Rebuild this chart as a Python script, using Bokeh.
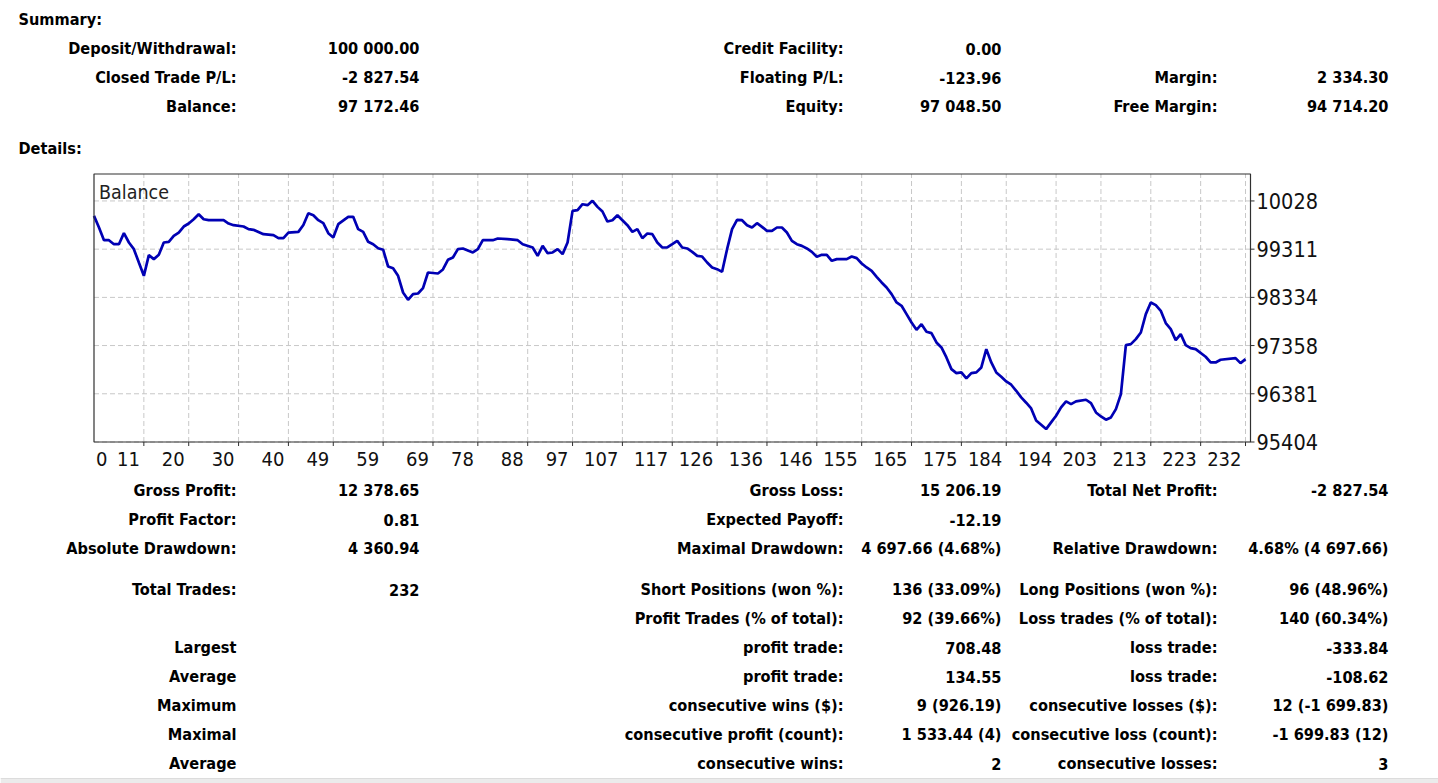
from bokeh.plotting import figure
from bokeh.models import Range1d
from bokeh.core.properties import value
from bokeh.embed import file_html
from bokeh.resources import INLINE

# ---------------- data ----------------
summary_rows = [
    ["Deposit/Withdrawal:", "100 000.00", "Credit Facility:", "0.00", "", ""],
    ["Closed Trade P/L:", "-2 827.54", "Floating P/L:", "-123.96", "Margin:", "2 334.30"],
    ["Balance:", "97 172.46", "Equity:", "97 048.50", "Free Margin:", "94 714.20"],
]
detail_rows = [
    ["Gross Profit:", "12 378.65", "Gross Loss:", "15 206.19", "Total Net Profit:", "-2 827.54"],
    ["Profit Factor:", "0.81", "Expected Payoff:", "-12.19", "", ""],
    ["Absolute Drawdown:", "4 360.94", "Maximal Drawdown:", "4 697.66 (4.68%)", "Relative Drawdown:", "4.68% (4 697.66)"],
    ["Total Trades:", "232", "Short Positions (won %):", "136 (33.09%)", "Long Positions (won %):", "96 (48.96%)"],
    ["", "", "Profit Trades (% of total):", "92 (39.66%)", "Loss trades (% of total):", "140 (60.34%)"],
    ["Largest", "", "profit trade:", "708.48", "loss trade:", "-333.84"],
    ["Average", "", "profit trade:", "134.55", "loss trade:", "-108.62"],
    ["Maximum", "", "consecutive wins ($):", "9 (926.19)", "consecutive losses ($):", "12 (-1 699.83)"],
    ["Maximal", "", "consecutive profit (count):", "1 533.44 (4)", "consecutive loss (count):", "-1 699.83 (12)"],
    ["Average", "", "consecutive wins:", "2", "consecutive losses:", "3"],
]
section_titles = ["Summary:", "Details:"]

trade_no = [1, 2, 3, 4, 5, 6, 7, 8, 9, 10, 11, 12, 13, 14, 15, 16, 17, 18, 19, 20,
            21, 22, 23, 24, 27, 28, 29, 31, 32, 33, 35, 37, 38, 39, 40, 42, 43, 44, 45, 46,
            47, 48, 49, 50, 52, 53, 54, 55, 56, 57, 58, 59, 60, 61, 62, 63, 64, 65, 66, 67,
            68, 70, 71, 72, 73, 74, 75, 77, 78, 79, 81, 82, 84, 86, 87, 89, 90, 91, 92, 93,
            94, 95, 96, 97, 98, 99, 100, 101, 102, 103, 104, 105, 106, 107, 108, 109, 110, 111, 112, 113,
            114, 115, 116, 117, 118, 119, 120, 121, 122, 123, 124, 125, 126, 127, 128, 129, 130, 131, 132, 133,
            134, 135, 136, 137, 138, 139, 140, 141, 142, 143, 144, 145, 146, 147, 148, 149, 150, 152, 153, 154,
            155, 156, 157, 158, 159, 160, 161, 162, 163, 164, 165, 166, 167, 168, 169, 170, 171, 172, 173, 174,
            175, 176, 177, 178, 179, 180, 181, 182, 183, 184, 185, 186, 187, 188, 189, 190, 191, 192, 193, 194,
            195, 196, 197, 198, 200, 201, 202, 203, 204, 205, 206, 207, 208, 209, 210, 211, 212, 213, 214, 215,
            216, 217, 218, 219, 220, 221, 222, 224, 225, 226, 227, 230, 231, 232]
balance = [99986, 99750, 99493, 99493, 99412, 99412, 99635, 99446, 99311, 99040, 98771, 99190, 99109, 99196, 99446, 99460, 99581, 99648, 99770, 99831,
           99918, 100020, 99918, 99898, 99898, 99831, 99797, 99770, 99716, 99703, 99615, 99595, 99534, 99534, 99648, 99662, 99800, 100040, 99999, 99898,
           99838, 99635, 99547, 99817, 99966, 99966, 99716, 99662, 99460, 99412, 99330, 99300, 98960, 98926, 98771, 98433, 98285, 98400, 98413, 98521,
           98838, 98818, 98900, 99095, 99142, 99311, 99325, 99244, 99311, 99493, 99493, 99527, 99514, 99493, 99412, 99345, 99176, 99378, 99230, 99244,
           99311, 99210, 99446, 100087, 100101, 100222, 100202, 100290, 100168, 100074, 99871, 99898, 99999, 99898, 99797, 99662, 99716, 99534, 99628, 99615,
           99446, 99345, 99345, 99412, 99480, 99345, 99325, 99257, 99176, 99162, 99041, 98940, 98906, 98852, 99311, 99716, 99905, 99898, 99797, 99750,
           99838, 99763, 99682, 99682, 99750, 99750, 99648, 99480, 99412, 99378, 99325, 99257, 99156, 99196, 99196, 99075, 99109, 99109, 99162, 99129,
           99021, 98940, 98872, 98751, 98636, 98535, 98400, 98231, 98164, 97995, 97826, 97677, 97792, 97637, 97610, 97421, 97320, 97117, 96881, 96800,
           96814, 96692, 96800, 96814, 96915, 97286, 97016, 96814, 96726, 96631, 96564, 96442, 96307, 96200, 96084, 95840, 95754, 95666, 95801, 95936,
           96105, 96226, 96172, 96226, 96260, 96192, 96003, 95922, 95855, 95902, 96071, 96375, 97367, 97387, 97488, 97623, 97995, 98231, 98177, 98062,
           97813, 97691, 97468, 97590, 97367, 97306, 97286, 97131, 97016, 97016, 97070, 97104, 97002, 97083]

x_tick_labels = [11, 20, 30, 40, 49, 59, 69, 78, 88, 97, 107, 117, 126, 136, 146, 155,
                 165, 175, 184, 194, 203, 213, 223, 232]
x_first_label = "0"
y_tick_values = [95404, 96381, 97358, 98334, 99311, 100288]
y_tick_text = ["95404", "96381", "97358", "98334", "99311", "10028"]
chart_title = "Balance"

# ---------------- layout (page pixels) ----------------
W, H = 1438, 783
FONT = "DejaVu Sans Condensed"
COL_X = [236, 419, 843, 1001, 1217, 1388]
TOP_ROWS_Y = [48, 77, 106]
BOTTOM_ROWS_Y = [490, 519, 548, 589, 618, 647, 676, 705, 734, 763]
TITLE_Y = [19, 148]

# chart frame in page pixels and its data extent
FL, FR, FT, FB = 93.5, 1250.0, 173.5, 441.5
X0, X1 = 1, 233
Y0, Y1 = 95404, 100834
ppx = (FR - FL) / (X1 - X0)
vpp = (Y1 - Y0) / (FB - FT)

p = figure(width=W, height=H, x_range=Range1d(0, W), y_range=Range1d(H, 0),
           output_backend="svg", toolbar_location=None, x_axis_type=None, y_axis_type=None,
           min_border=0)
p.grid.visible = False
p.outline_line_color = None
p.background_fill_color = "white"
p.border_fill_color = "white"
p.extra_x_ranges = {"trade": Range1d(X0 - FL / ppx, X0 + (W - FL) / ppx)}
p.extra_y_ranges = {"bal": Range1d(Y0 - (H - FB) * vpp, Y1 + FT * vpp)}
CH = dict(x_range_name="trade", y_range_name="bal")

# ---- tables ----
def put_rows(rows, ys):
    xs, yy, tt = [], [], []
    for row, y in zip(rows, ys):
        for cx, t in zip(COL_X, row):
            if t:
                xs.append(cx); yy.append(y); tt.append(t)
    p.text(x=xs, y=yy, text=tt, text_align="right", text_baseline="middle",
           text_font=value(FONT), text_font_style="bold", text_font_size="16.2px", text_color="black")

p.text(x=[18, 18], y=TITLE_Y, text=section_titles, text_align="left", text_baseline="middle",
       text_font=value(FONT), text_font_style="bold", text_font_size="16.2px", text_color="black")
put_rows(summary_rows, TOP_ROWS_Y)
put_rows(detail_rows, BOTTOM_ROWS_Y)

# bottom grey band
p.quad(left=[0], right=[W], top=[778], bottom=[H], fill_color="#ebebeb", line_color=None)
p.segment(x0=[0], x1=[W], y0=[778], y1=[778], line_color="#dcdcdc", line_width=1)

# ---- chart ----
GRID = dict(line_color="#c8c8c8", line_dash="5 3", line_width=1)
p.segment(x0=x_tick_labels, x1=x_tick_labels, y0=[Y0] * len(x_tick_labels), y1=[Y1] * len(x_tick_labels), **GRID, **CH)
p.segment(x0=[X0] * len(y_tick_values), x1=[X1] * len(y_tick_values), y0=y_tick_values, y1=y_tick_values, **GRID, **CH)

p.line(trade_no, balance, line_color="#0000b4", line_width=2.7, **CH)

AX = "#303030"
p.quad(left=[X0], right=[X1], bottom=[Y0], top=[Y1], fill_alpha=0, line_color=AX, line_width=1.2, **CH)
# tick marks (4 px outside the frame)
p.segment(x0=x_tick_labels, x1=x_tick_labels, y0=[Y0] * len(x_tick_labels),
          y1=[Y0 - 4 * vpp] * len(x_tick_labels), line_color=AX, line_width=1, **CH)
p.segment(x0=[X1] * len(y_tick_values), x1=[X1 + 4 / ppx] * len(y_tick_values),
          y0=y_tick_values, y1=y_tick_values, line_color=AX, line_width=1, **CH)

# tick labels
p.text(x=x_tick_labels, y=[Y0] * len(x_tick_labels), text=[str(v) for v in x_tick_labels],
       x_offset=-4, y_offset=17, text_align="right", text_baseline="middle",
       text_font=value(FONT), text_font_size="20px", text_color="#111111", **CH)
p.text(x=[X0], y=[Y0], text=[x_first_label], x_offset=2, y_offset=17, text_align="left",
       text_baseline="middle", text_font=value(FONT), text_font_size="20px", text_color="#111111", **CH)
p.text(x=[X1] * len(y_tick_values), y=y_tick_values, text=y_tick_text, x_offset=6,
       text_align="left", text_baseline="middle", text_font=value(FONT), text_font_size="21.5px",
       text_color="#111111", **CH)
p.text(x=[X0], y=[Y1], text=[chart_title], x_offset=5, y_offset=18, text_align="left",
       text_baseline="middle", text_font=value(FONT), text_font_size="19.5px", text_color="#222222", **CH)

open("out.html", "w").write(file_html(p, INLINE))
